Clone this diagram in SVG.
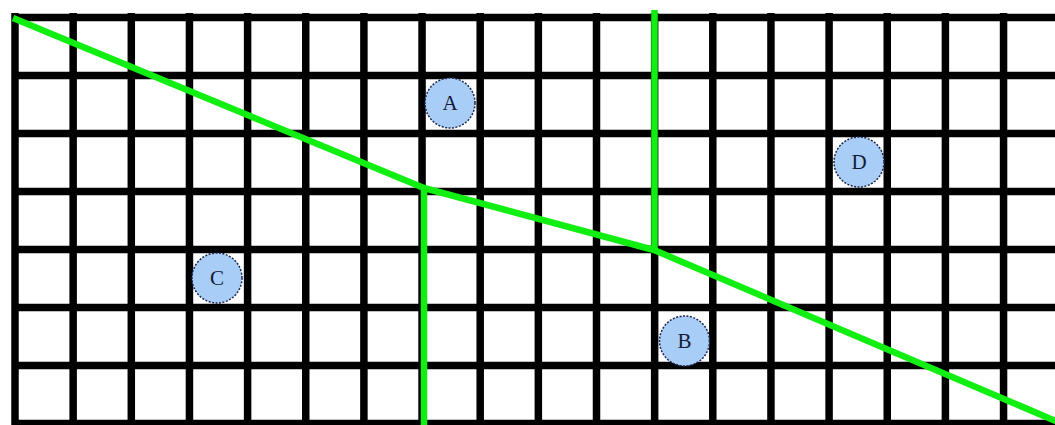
<svg xmlns="http://www.w3.org/2000/svg" width="1055" height="425" viewBox="0 0 1055 425">
  <style>
    .grid line { stroke: #000; stroke-width: 7.5; }
    .cut { fill: none; stroke: #11ee11; stroke-width: 6.5; stroke-linejoin: round; stroke-linecap: butt; }
    .node circle { fill: #a8cdf6; stroke: #1a2550; stroke-width: 1.5; stroke-dasharray: 2 1.5; }
    .node text { font-family: "Liberation Serif", "Times New Roman", serif; font-size: 21px; fill: #121a38; text-anchor: middle; dominant-baseline: central; }
  </style>
  <rect width="1055" height="425" fill="#ffffff"/>
  <g class="grid">
    <line x1="12" y1="17.5" x2="1055" y2="17.5" stroke-width="8.5"/>
    <line x1="12" y1="75.5" x2="1055" y2="75.5"/>
    <line x1="12" y1="133.5" x2="1055" y2="133.5"/>
    <line x1="12" y1="191.5" x2="1055" y2="191.5"/>
    <line x1="12" y1="249.5" x2="1055" y2="249.5"/>
    <line x1="12" y1="307.5" x2="1055" y2="307.5"/>
    <line x1="12" y1="365.5" x2="1055" y2="365.5"/>
    <line x1="12" y1="423.5" x2="1055" y2="423.5"/>
    <line x1="15" y1="13" x2="15" y2="425"/>
    <line x1="73.15" y1="13" x2="73.15" y2="425"/>
    <line x1="131.3" y1="13" x2="131.3" y2="425"/>
    <line x1="189.45" y1="13" x2="189.45" y2="425"/>
    <line x1="247.6" y1="13" x2="247.6" y2="425"/>
    <line x1="305.75" y1="13" x2="305.75" y2="425"/>
    <line x1="363.9" y1="13" x2="363.9" y2="425"/>
    <line x1="422.05" y1="13" x2="422.05" y2="425"/>
    <line x1="480.2" y1="13" x2="480.2" y2="425"/>
    <line x1="538.35" y1="13" x2="538.35" y2="425"/>
    <line x1="596.5" y1="13" x2="596.5" y2="425"/>
    <line x1="654.65" y1="13" x2="654.65" y2="425"/>
    <line x1="712.8" y1="13" x2="712.8" y2="425"/>
    <line x1="770.95" y1="13" x2="770.95" y2="425"/>
    <line x1="829.1" y1="13" x2="829.1" y2="425"/>
    <line x1="887.25" y1="13" x2="887.25" y2="425"/>
    <line x1="945.4" y1="13" x2="945.4" y2="425"/>
    <line x1="1003.55" y1="13" x2="1003.55" y2="425"/>
  </g>
  <g id="connectors">
    <polyline class="cut" points="13,18 424,188 654,250 1058,422"/>
    <line class="cut" x1="424" y1="188" x2="424" y2="425"/>
    <line class="cut" x1="654.5" y1="10" x2="654.5" y2="250"/>
  </g>
  <g id="node-A" class="node">
    <circle cx="450" cy="103" r="25"/>
    <text x="450" y="103">A</text>
  </g>
  <g id="node-B" class="node">
    <circle cx="684.5" cy="341" r="25"/>
    <text x="684.5" y="341">B</text>
  </g>
  <g id="node-C" class="node">
    <circle cx="217" cy="278" r="25"/>
    <text x="217" y="278">C</text>
  </g>
  <g id="node-D" class="node">
    <circle cx="859" cy="162" r="25"/>
    <text x="859" y="162">D</text>
  </g>
</svg>
